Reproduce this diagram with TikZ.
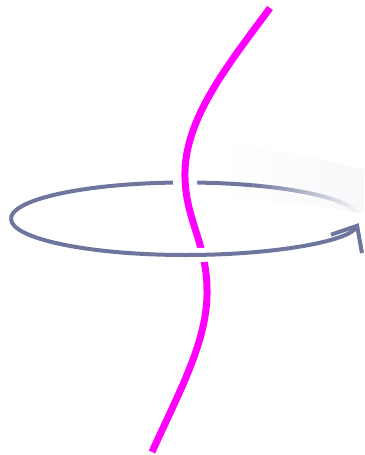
\documentclass[tikz,border=0pt]{standalone}
\usepackage{xcolor}
\usetikzlibrary{arrows.meta,calc,fadings}
\definecolor{ringgray}{HTML}{6E769E}
\definecolor{axismag}{HTML}{FF00FF}
\tikzfading[name=ringfade,left color=transparent!0,right color=transparent!100]

\begin{document}
\begin{tikzpicture}[x=1pt,y=-1pt,
  ring/.style={draw=ringgray,line width=4pt},
  axisline/.style={draw=axismag,line width=7pt},
  halo/.style={draw=white,line width=#1}]
  \useasboundingbox (0,0) rectangle (364,455);
  \coordinate (c) at (185.5,218.75);
  % faint glow behind the fading part of the ring
  \shade[left color=white,right color=ringgray!5,draw=none]
    (222,143) .. controls (280,150) and (330,160) .. (364,170) -- (364,214)
    .. controls (320,206) and (270,200) .. (222,198) -- cycle;
  % back half of the ring
  \draw[ring] ($(c)+(180:174.5 and 36.25)$) arc[start angle=180,end angle=293,x radius=174.5,y radius=36.25] coordinate (fadestart);
  \draw[ring,path fading=ringfade] (fadestart) arc[start angle=293,end angle=350,x radius=174.5,y radius=36.25];
  % the twisted axis
  \coordinate (top) at (270,8);
  \coordinate (waist) at (185,178);
  \coordinate (hip) at (207,290);
  \coordinate (foot) at (152,452);
  \draw[halo=24pt] (waist) ++(0,-25) -- (waist) .. controls (185.5,200) and (190,215) .. (195,228);
  \draw[axisline] (top) .. controls (228,65) and (183,120) .. (waist)
    .. controls (186,220) and (207,245) .. (hip)
    .. controls (208,340) and (180,390) .. (foot);
  % front half of the ring with arrow
  \draw[halo=14pt] ($(c)+(70:174.5 and 36.25)$) arc[start angle=70,end angle=97,x radius=174.5,y radius=36.25];
  \draw[ring,line join=miter,-{Straight Barb[length=21pt,width=36pt]}] ($(c)+(180:174.5 and 36.25)$) arc[start angle=180,end angle=7,x radius=174.5,y radius=36.25];
\end{tikzpicture}
\end{document}
